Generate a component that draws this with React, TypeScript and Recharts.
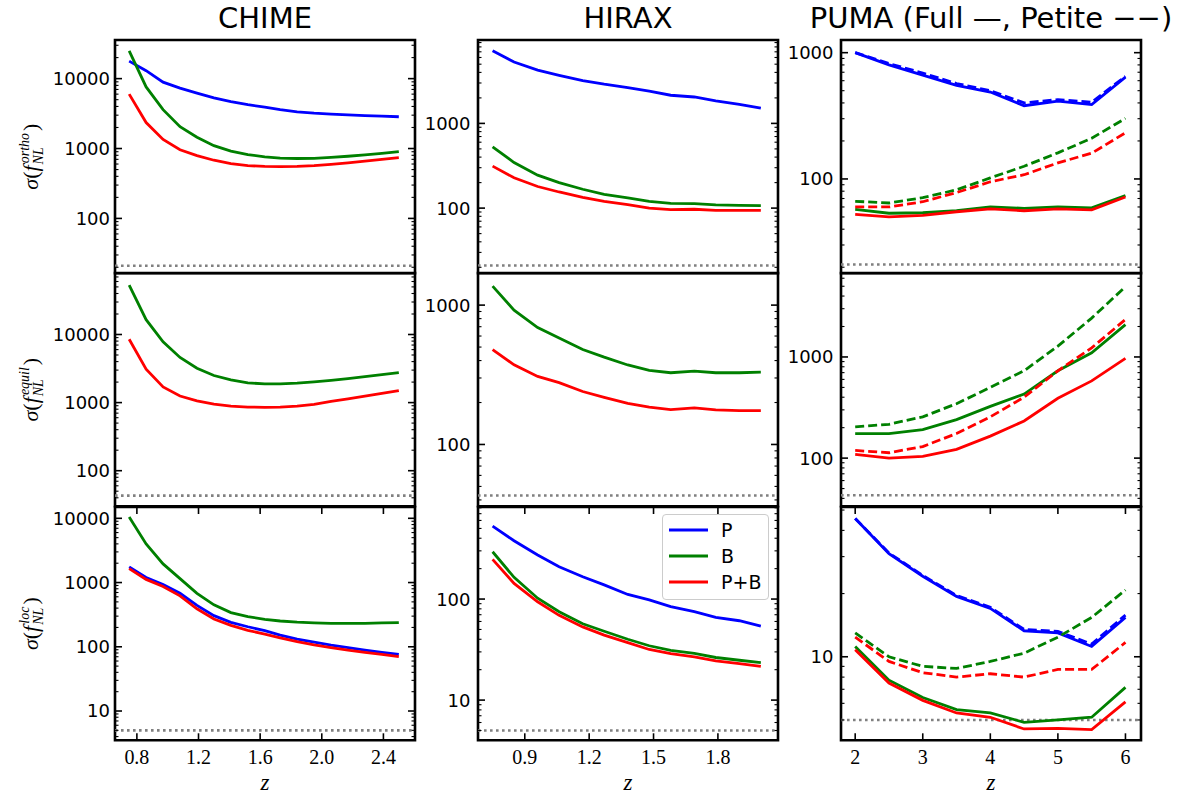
import {
  LineChart,
  Line,
  XAxis,
  YAxis,
  ReferenceLine,
  ReferenceArea,
  Legend,
} from "recharts";

const SANS = "'DejaVu Sans', 'Liberation Sans', sans-serif";
const SERIF = "'Liberation Serif', 'DejaVu Serif', serif";

const BLUE = "#0000ff";
const GREEN = "#008000";
const RED = "#ff0000";

// redshift samples of each survey
const chimeZ = [0.75, 0.86, 0.97, 1.08, 1.19, 1.3, 1.41, 1.52, 1.63, 1.73, 1.84, 1.95, 2.06, 2.17, 2.28, 2.39, 2.5];
const hiraxZ = [0.75, 0.85, 0.96, 1.06, 1.17, 1.27, 1.38, 1.48, 1.58, 1.69, 1.79, 1.9, 2.0];
const pumaZ = [2, 2.5, 3, 3.5, 4, 4.5, 5, 5.5, 6];

// CHIME
const chimeOrthoP = [17800, 13000, 8900, 7300, 6200, 5300, 4700, 4250, 3900, 3600, 3350, 3200, 3100, 3020, 2950, 2900, 2850];
const chimeOrthoB = [25000, 7600, 3600, 2050, 1450, 1100, 920, 820, 760, 730, 720, 725, 745, 775, 810, 850, 900];
const chimeOrthoPB = [6000, 2350, 1350, 960, 790, 680, 610, 570, 555, 550, 555, 570, 595, 625, 660, 700, 740];
const chimeEquilB = [53000, 16500, 7800, 4600, 3200, 2500, 2150, 1950, 1880, 1880, 1930, 2020, 2120, 2250, 2400, 2570, 2750];
const chimeEquilPB = [8500, 3100, 1700, 1250, 1060, 950, 890, 860, 850, 860, 890, 940, 1040, 1130, 1240, 1370, 1500];
const chimeLocP = [1750, 1200, 930, 680, 440, 305, 240, 205, 178, 152, 132, 118, 106, 97, 89, 82, 76];
const chimeLocB = [10500, 4000, 1950, 1150, 680, 450, 340, 295, 268, 252, 242, 236, 232, 231, 232, 235, 238];
const chimeLocPB = [1650, 1120, 870, 620, 390, 270, 215, 180, 158, 138, 120, 107, 97, 89, 82, 76, 70];

// HIRAX
const hiraxOrthoP = [7200, 5300, 4250, 3700, 3200, 2900, 2650, 2400, 2150, 2050, 1850, 1680, 1510];
const hiraxOrthoB = [530, 345, 245, 200, 167, 145, 132, 120, 114, 113, 109, 108, 107];
const hiraxOrthoPB = [313, 228, 180, 155, 134, 120, 110, 100, 96, 97, 94, 94, 94];
const hiraxEquilB = [1370, 920, 690, 580, 480, 423, 372, 340, 327, 336, 327, 327, 330];
const hiraxEquilPB = [480, 373, 308, 278, 240, 218, 197, 185, 178, 183, 177, 175, 175];
const hiraxLocP = [528, 378, 273, 209, 166, 138, 111, 98, 84, 75, 66, 61, 54];
const hiraxLocB = [294, 164, 102, 75, 57, 48, 40, 34.5, 31, 29, 26.4, 24.8, 23.5];
const hiraxLocPB = [247, 143, 94, 69, 53, 44, 37, 31.7, 28.9, 26.8, 24.5, 23, 21.6];

// PUMA full
const pumaOrthoP = [1000, 800, 665, 550, 488, 380, 413, 388, 640];
const pumaOrthoB = [57.5, 53.5, 54, 56, 60, 58.5, 60, 59, 74];
const pumaOrthoPB = [52.5, 50, 51.5, 55, 58, 56, 58, 57, 72];
const pumaEquilB = [175, 175, 191, 240, 325, 430, 730, 1100, 2090];
const pumaEquilPB = [109, 100, 104, 122, 165, 233, 390, 580, 970];
const pumaLocP = [45.6, 31, 24.2, 19.4, 17, 13.3, 13.0, 11.2, 15.4];
const pumaLocB = [11.2, 7.74, 6.4, 5.6, 5.4, 4.87, 5.0, 5.15, 7.15];
const pumaLocPB = [10.8, 7.5, 6.2, 5.4, 5.15, 4.53, 4.56, 4.5, 6.1];

// PUMA petite
const petiteOrthoP = [1000, 820, 690, 570, 500, 400, 425, 405, 650];
const petiteOrthoB = [66.5, 64.5, 71, 82, 102, 126, 161, 210, 302];
const petiteOrthoPB = [60, 60, 66, 78, 95, 108, 134, 160, 232];
const petiteEquilB = [204, 216, 256, 345, 500, 730, 1280, 2420, 4950];
const petiteEquilPB = [119, 113, 130, 175, 256, 400, 730, 1230, 2350];
const petiteLocP = [45.6, 31.2, 24.4, 19.6, 17.2, 13.5, 13.2, 11.5, 15.8];
const petiteLocB = [13.0, 10.0, 9.0, 8.8, 9.5, 10.4, 12.4, 15.4, 20.8];
const petiteLocPB = [12.4, 9.5, 8.4, 8.0, 8.3, 8.0, 8.7, 8.7, 11.7];

// Planck 2015 errors (grey dotted)
const planckOrtho = 21;
const planckEquil = 43;
const planckLoc = 5;

const chimeXTicks = [0.8, 1.2, 1.6, 2.0, 2.4];
const chimeXLabels = ["0.8", "1.2", "1.6", "2.0", "2.4"];
const hiraxXTicks = [0.9, 1.2, 1.5, 1.8];
const hiraxXLabels = ["0.9", "1.2", "1.5", "1.8"];
const pumaXTicks = [2, 3, 4, 5, 6];
const pumaXLabels = ["2", "3", "4", "5", "6"];

const colTitles = ["CHIME", "HIRAX", "PUMA (Full \u2014, Petite \u2212\u2212)"];
const shapeNames = ["ortho", "equil", "loc"];
const legendOrder = ["P", "B", "P+B"];

// layout (page pixels)
const COL_LEFT = [115, 478, 841];
const PLOT_W = 300;
const ROW_TOP = [40, 273.3, 506.7];
const PLOT_H = 233.3;
const LINE_W = 2.8;

const pts = (z: number[], v: number[]) => z.map((zz, i) => ({ z: zz, v: v[i] }));

const logTicks = (lo: number, hi: number) => {
  const out: number[] = [];
  for (let e = Math.floor(Math.log10(lo)); e <= Math.ceil(Math.log10(hi)); e++) {
    for (let m = 1; m < 10; m++) {
      const v = m * Math.pow(10, e);
      if (v >= lo && v <= hi) out.push(v);
    }
  }
  return out;
};

const isPow10 = (v: number) => Math.abs(Math.log10(v) - Math.round(Math.log10(v))) < 1e-9;

const makeYTick = (gap: number) => (props: any) => {
  const { x, y, payload } = props;
  const v = payload.value;
  const major = isPow10(v);
  const len = major ? 7 : 3.5;
  const sw = major ? 1.6 : 1.1;
  return (
    <g>
      <line x1={x} y1={y} x2={x + len} y2={y} stroke="#000" strokeWidth={sw} />
      <line x1={x + PLOT_W} y1={y} x2={x + PLOT_W - len} y2={y} stroke="#000" strokeWidth={sw} />
      {major && (
        <text x={x - gap} y={y} dy="0.36em" textAnchor="end" fontFamily={SANS} fontSize={18} fill="#000">
          {String(v)}
        </text>
      )}
    </g>
  );
};

const makeXTick = (ticks: number[], labels: string[], showLabels: boolean) => (props: any) => {
  const { x, y, payload } = props;
  const idx = ticks.indexOf(payload.value);
  return (
    <g>
      <line x1={x} y1={y} x2={x} y2={y - 7} stroke="#000" strokeWidth={1.6} />
      <line x1={x} y1={y - PLOT_H} x2={x} y2={y - PLOT_H + 7} stroke="#000" strokeWidth={1.6} />
      {showLabels && (
        <text x={x} y={y + 24} textAnchor="middle" fontFamily={SERIF} fontSize={20} fill="#000">
          {labels[idx]}
        </text>
      )}
    </g>
  );
};

const sigmaLabel = (sup: string) => (props: any) => {
  const vb = props.viewBox || { x: 0, y: 0, width: 115, height: PLOT_H };
  const cx = vb.x + 38;
  const cy = vb.y + vb.height / 2;
  return (
    <g transform={`translate(${cx},${cy}) rotate(-90)`}>
      <text x={0} y={0} textAnchor="middle" fontFamily={SERIF} fontSize={22} fill="#000">
        <tspan fontStyle="italic">σ</tspan>
        <tspan>(</tspan>
        <tspan fontStyle="italic">f</tspan>
        <tspan fontStyle="italic" fontSize={14} dx={1} dy={5}>NL</tspan>
        <tspan fontStyle="italic" fontSize={14} dx={-16} dy={-14}>{sup}</tspan>
        <tspan dx={2} dy={9}>)</tspan>
      </text>
    </g>
  );
};

const zLabel = (props: any) => {
  const vb = props.viewBox;
  return (
    <text x={vb.x + vb.width / 2} y={vb.y + 50} textAnchor="middle" fontFamily={SERIF} fontStyle="italic" fontSize={23} fill="#000">
      z
    </text>
  );
};

const LegendBox = ({ payload }: any) => {
  const items = [...(payload || [])].sort(
    (a: any, b: any) => legendOrder.indexOf(a.value) - legendOrder.indexOf(b.value)
  );
  return (
    <div
      style={{
        border: "1.5px solid #cccccc",
        borderRadius: 4,
        background: "rgba(255,255,255,0.85)",
        padding: "2px 6px 4px 6px",
        width: 107,
        boxSizing: "border-box",
      }}
    >
      {items.map((e: any) => (
        <div key={e.value} style={{ display: "flex", alignItems: "center", height: 26 }}>
          <svg width={39} height={6}>
            <line x1={0} y1={3} x2={39} y2={3} stroke={e.color} strokeWidth={3} />
          </svg>
          <span style={{ marginLeft: 13, fontFamily: SANS, fontSize: 19, color: "#000" }}>{e.value}</span>
        </div>
      ))}
    </div>
  );
};

type Series = { name: string; z: number[]; v: number[]; color: string; dashed?: boolean };

const Panel = ({ col, row, xDomain, xTicks, xLabels, yDomain, refY, series, legend }: any) => {
  const bottom = row === 2;
  const axisW = col === 0 ? 115 : 70;
  const mTop = 3;
  const mRight = 3;
  const xAxisH = bottom ? 56 : 0;
  const mBottom = bottom ? 0 : 3;
  const width = axisW + PLOT_W + mRight;
  const height = mTop + PLOT_H + xAxisH + mBottom;
  return (
    <div style={{ position: "absolute", left: COL_LEFT[col] - axisW, top: ROW_TOP[row] - mTop }}>
      <LineChart width={width} height={height} margin={{ top: mTop, right: mRight, bottom: mBottom, left: 0 }}>
        <XAxis
          type="number"
          dataKey="z"
          domain={xDomain}
          allowDataOverflow
          ticks={xTicks}
          interval={0}
          height={xAxisH}
          axisLine={false}
          tickLine={false}
          tickSize={0}
          tickMargin={0}
          tick={makeXTick(xTicks, xLabels, bottom)}
          label={bottom ? zLabel : undefined}
        />
        <YAxis
          type="number"
          scale="log"
          domain={yDomain}
          allowDataOverflow
          ticks={logTicks(yDomain[0], yDomain[1])}
          interval={0}
          width={axisW}
          axisLine={false}
          tickLine={false}
          tickSize={0}
          tickMargin={0}
          tick={makeYTick(col === 0 ? 5 : 7.5)}
          label={col === 0 ? sigmaLabel(shapeNames[row]) : undefined}
        />
        <ReferenceLine y={refY} stroke="#808080" strokeWidth={2.6} strokeDasharray="2.6 3.4" ifOverflow="visible" />
        {series.map((s: Series, i: number) => (
          <Line
            key={i}
            data={pts(s.z, s.v)}
            dataKey="v"
            name={s.name}
            type="linear"
            stroke={s.color}
            strokeWidth={LINE_W}
            strokeDasharray={s.dashed ? "9 4" : undefined}
            dot={false}
            activeDot={false}
            legendType={s.dashed ? "none" : "line"}
            isAnimationActive={false}
          />
        ))}
        {legend && (
          <Legend
            layout="vertical"
            align="center"
            verticalAlign="middle"
            content={LegendBox}
            wrapperStyle={{ left: 254, top: 10, width: 107, height: 84 }}
          />
        )}
        <ReferenceArea
          x1={xDomain[0]}
          x2={xDomain[1]}
          y1={yDomain[0]}
          y2={yDomain[1]}
          fill="none"
          fillOpacity={0}
          stroke="#000"
          strokeWidth={2.6}
          ifOverflow="visible"
        />
      </LineChart>
    </div>
  );
};

const chimeX = { xDomain: [0.658, 2.605], xTicks: chimeXTicks, xLabels: chimeXLabels };
const hiraxX = { xDomain: [0.682, 2.08], xTicks: hiraxXTicks, xLabels: hiraxXLabels };
const pumaX = { xDomain: [1.79, 6.23], xTicks: pumaXTicks, xLabels: pumaXLabels };

const panels = [
  {
    col: 0, row: 0, ...chimeX, yDomain: [16.4, 35700], refY: planckOrtho,
    series: [
      { name: "P", z: chimeZ, v: chimeOrthoP, color: BLUE },
      { name: "B", z: chimeZ, v: chimeOrthoB, color: GREEN },
      { name: "P+B", z: chimeZ, v: chimeOrthoPB, color: RED },
    ],
  },
  {
    col: 0, row: 1, ...chimeX, yDomain: [30, 80000], refY: planckEquil,
    series: [
      { name: "B", z: chimeZ, v: chimeEquilB, color: GREEN },
      { name: "P+B", z: chimeZ, v: chimeEquilPB, color: RED },
    ],
  },
  {
    col: 0, row: 2, ...chimeX, yDomain: [3.5, 15000], refY: planckLoc,
    series: [
      { name: "P", z: chimeZ, v: chimeLocP, color: BLUE },
      { name: "B", z: chimeZ, v: chimeLocB, color: GREEN },
      { name: "P+B", z: chimeZ, v: chimeLocPB, color: RED },
    ],
  },
  {
    col: 1, row: 0, ...hiraxX, yDomain: [17, 9650], refY: planckOrtho,
    series: [
      { name: "P", z: hiraxZ, v: hiraxOrthoP, color: BLUE },
      { name: "B", z: hiraxZ, v: hiraxOrthoB, color: GREEN },
      { name: "P+B", z: hiraxZ, v: hiraxOrthoPB, color: RED },
    ],
  },
  {
    col: 1, row: 1, ...hiraxX, yDomain: [36, 1700], refY: planckEquil,
    series: [
      { name: "B", z: hiraxZ, v: hiraxEquilB, color: GREEN },
      { name: "P+B", z: hiraxZ, v: hiraxEquilPB, color: RED },
    ],
  },
  {
    col: 1, row: 2, ...hiraxX, yDomain: [4.0, 815], refY: planckLoc, legend: true,
    series: [
      { name: "P", z: hiraxZ, v: hiraxLocP, color: BLUE },
      { name: "B", z: hiraxZ, v: hiraxLocB, color: GREEN },
      { name: "P+B", z: hiraxZ, v: hiraxLocPB, color: RED },
    ],
  },
  {
    col: 2, row: 0, ...pumaX, yDomain: [17.9, 1260], refY: planckOrtho,
    series: [
      { name: "P", z: pumaZ, v: pumaOrthoP, color: BLUE },
      { name: "B", z: pumaZ, v: pumaOrthoB, color: GREEN },
      { name: "P+B", z: pumaZ, v: pumaOrthoPB, color: RED },
      { name: "P petite", z: pumaZ, v: petiteOrthoP, color: BLUE, dashed: true },
      { name: "B petite", z: pumaZ, v: petiteOrthoB, color: GREEN, dashed: true },
      { name: "P+B petite", z: pumaZ, v: petiteOrthoPB, color: RED, dashed: true },
    ],
  },
  {
    col: 2, row: 1, ...pumaX, yDomain: [33.4, 6760], refY: planckEquil,
    series: [
      { name: "B", z: pumaZ, v: pumaEquilB, color: GREEN },
      { name: "P+B", z: pumaZ, v: pumaEquilPB, color: RED },
      { name: "B petite", z: pumaZ, v: petiteEquilB, color: GREEN, dashed: true },
      { name: "P+B petite", z: pumaZ, v: petiteEquilPB, color: RED, dashed: true },
    ],
  },
  {
    col: 2, row: 2, ...pumaX, yDomain: [4.0, 51.7], refY: planckLoc,
    series: [
      { name: "P", z: pumaZ, v: pumaLocP, color: BLUE },
      { name: "B", z: pumaZ, v: pumaLocB, color: GREEN },
      { name: "P+B", z: pumaZ, v: pumaLocPB, color: RED },
      { name: "P petite", z: pumaZ, v: petiteLocP, color: BLUE, dashed: true },
      { name: "B petite", z: pumaZ, v: petiteLocB, color: GREEN, dashed: true },
      { name: "P+B petite", z: pumaZ, v: petiteLocPB, color: RED, dashed: true },
    ],
  },
];

export default function App() {
  return (
    <div style={{ position: "absolute", left: 0, top: 0, width: 1189, height: 796, background: "#fff" }}>
      {colTitles.map((t, i) => (
        <div
          key={t}
          style={{
            position: "absolute",
            left: COL_LEFT[i] + PLOT_W / 2,
            top: 3.5,
            transform: "translateX(-50%)",
            whiteSpace: "nowrap",
            fontFamily: SANS,
            fontSize: 29,
            lineHeight: "29px",
            color: "#000",
          }}
        >
          {t}
        </div>
      ))}
      {panels.map((p) => (
        <Panel key={`${p.col}-${p.row}`} {...p} />
      ))}
    </div>
  );
}
